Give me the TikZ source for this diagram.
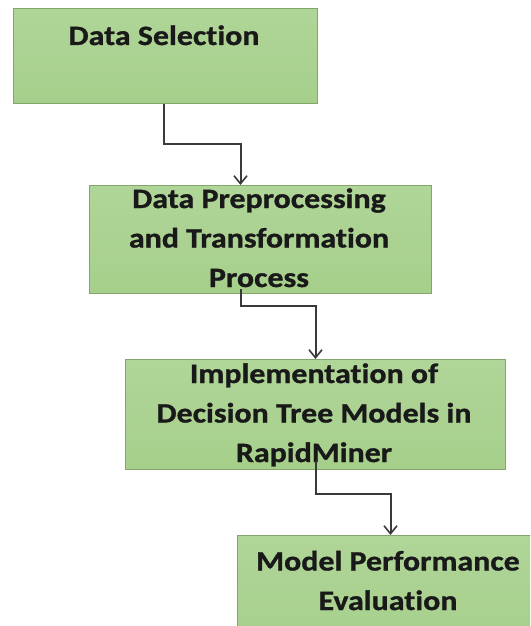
\documentclass[tikz,border=0pt]{standalone}
\usepackage{fontspec}
\setmainfont{Carlito}[FakeStretch=1.14, Ligatures=NoCommon, RawFeature=-liga, BoldFeatures={FakeBold=1}]
\usetikzlibrary{arrows.meta}
\definecolor{boxfill}{HTML}{A6CF8B}
\definecolor{boxfilltop}{HTML}{B0D598}
\definecolor{boxline}{HTML}{84A66A}
\definecolor{conncol}{HTML}{3A3A3A}
\tikzset{
  box/.style={draw=boxline, line width=1pt, top color=boxfilltop, bottom color=boxfill, rectangle, inner sep=0pt, anchor=north west},
  txt/.style={align=center, inner sep=0pt, font=\fontsize{28}{39.5}\selectfont\bfseries, text=black!90, anchor=base},
  conn/.style={draw=conncol, line width=2pt, -{Straight Barb[length=8pt,width=13pt,line width=1.6pt]}}
}
\begin{document}
\begin{tikzpicture}[x=1pt,y=-1pt]
\useasboundingbox (0,0) rectangle (530,626);
\clip (0,0) rectangle (530,626);
\node[box, minimum width=304pt, minimum height=95pt] (b1) at (13,8) {};
\node[box, minimum width=342pt, minimum height=108pt] (b2) at (89,185) {};
\node[box, minimum width=380pt, minimum height=110pt] (b3) at (125,359) {};
\node[box, minimum width=304pt, minimum height=110pt] (b4) at (237,535) {};
\node[txt] (t1) at (164,45) {Data Selection};
\node[txt] (t2) at (259,287) {Data Preprocessing\\and Transformation\\Process};
\node[txt] (t3) at (314,462) {Implementation of\\Decision Tree Models in\\RapidMiner};
\node[txt] (t4) at (388,610) {Model Performance\\Evaluation};
\draw[conn] ([xshift=-2pt]b1.south) -- ++(0,40) -| ([xshift=-20pt]b2.north);
\draw[conn] ([xshift=-20pt,yshift=5pt]b2.south) -- ++(0,17) -| (b3.north);
\draw[conn] ([yshift=9pt]b3.south) -- ++(0,33) -| ([xshift=1pt]b4.north);
\end{tikzpicture}
\end{document}
